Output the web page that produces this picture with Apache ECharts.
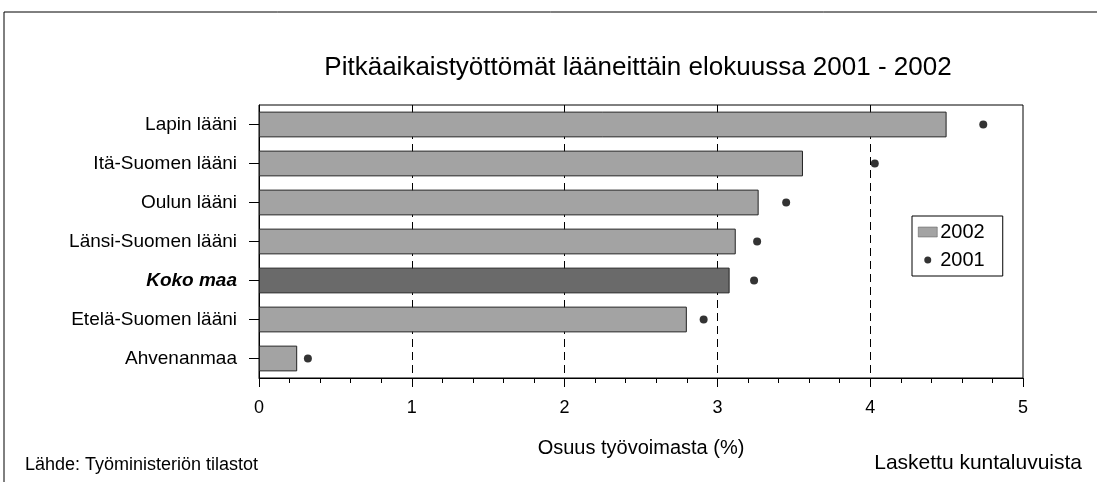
<!DOCTYPE html>
<html>
<head>
<meta charset="utf-8">
<script src="https://cdn.jsdelivr.net/npm/echarts@6/dist/echarts.min.js"></script>
<style>
  html, body { margin: 0; padding: 0; background: #fff; }
  #chart { width: 1097px; height: 482px; }
</style>
</head>
<body>
<div id="chart"></div>
<script>
// Regions, top to bottom
const regions = ['Lapin lääni', 'Itä-Suomen lääni', 'Oulun lääni', 'Länsi-Suomen lääni', 'Koko maa', 'Etelä-Suomen lääni', 'Ahvenanmaa'];
// Share of labour force (%), August
const values2002 = [4.50, 3.56, 3.27, 3.12, 3.08, 2.80, 0.25];
const values2001 = [4.74, 4.03, 3.45, 3.26, 3.24, 2.91, 0.32];
const xTicks = [0, 1, 2, 3, 4, 5];

const FONT = '"Liberation Sans", Arial, sans-serif';
const WHOLE = 'Koko maa';

const chart = echarts.init(document.getElementById('chart'), null, { renderer: 'canvas' });

chart.setOption({
  backgroundColor: '#fff',
  animation: false,
  textStyle: { fontFamily: FONT, color: '#000' },
  title: {
    text: 'Pitkäaikaistyöttömät lääneittäin elokuussa 2001 - 2002',
    left: 633, top: 50, textAlign: 'center',
    textStyle: { fontFamily: FONT, fontSize: 26, fontWeight: 'normal', color: '#000' }
  },
  legend: {
    orient: 'vertical',
    left: 912, top: 216,
    padding: [6, 18, 6, 6],
    itemGap: 8,
    itemWidth: 19, itemHeight: 10,
    borderColor: '#000', borderWidth: 1,
    textStyle: { fontFamily: FONT, fontSize: 20, color: '#000', padding: [0, 0, 0, -2] },
    data: [
      { name: '2002', icon: 'rect', itemStyle: { color: '#a3a3a3', borderColor: '#555', borderWidth: 0.5 } },
      { name: '2001', icon: 'path://M0,0L0.01,0M19,10L19.01,10M9.5,1.5a3.5,3.5 0 1,0 0.01,0z', itemStyle: { color: '#000' } }
    ]
  },
  grid: {
    left: 259, right: 74, top: 105, bottom: 104,
    show: true, borderColor: '#000', borderWidth: 1, backgroundColor: 'transparent'
  },
  xAxis: {
    type: 'value',
    min: xTicks[0], max: xTicks[xTicks.length - 1], interval: 1,
    name: 'Osuus työvoimasta (%)',
    nameLocation: 'middle', nameGap: 60,
    nameTextStyle: { fontFamily: FONT, fontSize: 20, color: '#000' },
    axisLine: { show: true, lineStyle: { color: '#000', width: 1 } },
    axisTick: { show: true, length: 9, lineStyle: { color: '#000' } },
    minorTick: { show: true, splitNumber: 5, length: 5, lineStyle: { color: '#000' } },
    axisLabel: { fontFamily: FONT, fontSize: 18, color: '#000', margin: 21 },
    splitLine: {
      show: true, showMinLine: false, showMaxLine: false,
      lineStyle: { color: '#000', type: [8, 5], width: 1 }
    }
  },
  yAxis: {
    type: 'category',
    inverse: true,
    data: regions,
    axisLine: { show: true, lineStyle: { color: '#000', width: 1 } },
    axisTick: { show: true, alignWithLabel: true, length: 10, lineStyle: { color: '#000' } },
    axisLabel: {
      fontFamily: FONT, fontSize: 19, color: '#000', margin: 22,
      formatter: (v) => v === WHOLE ? '{b|' + v + '}' : v,
      rich: { b: { fontFamily: FONT, fontSize: 19, fontWeight: 'bold', fontStyle: 'italic', color: '#000' } }
    }
  },
  series: [
    {
      name: '2002',
      type: 'bar',
      barWidth: '66%',
      data: values2002.map((v, i) => ({
        value: v,
        itemStyle: {
          color: regions[i] === WHOLE ? '#6a6a6a' : '#a3a3a3',
          borderColor: '#222', borderWidth: 1
        }
      })),
      z: 3
    },
    {
      name: '2001',
      type: 'scatter',
      symbol: 'circle',
      symbolSize: 8,
      itemStyle: { color: '#000' },
      data: values2001,
      z: 4
    }
  ],
  graphic: [
    // outer frame of the figure
    { type: 'polyline', shape: { points: [[4, 482], [4, 12], [1097, 12]] }, style: { stroke: '#000', lineWidth: 1, fill: null } },
    {
      type: 'text', left: 25, top: 456,
      style: { text: 'Lähde: Työministeriön tilastot', font: '18px ' + FONT, fill: '#000' }
    },
    {
      type: 'text', right: 15, top: 453,
      style: { text: 'Laskettu kuntaluvuista', font: '21px ' + FONT, fill: '#000' }
    }
  ]
});
</script>
</body>
</html>
